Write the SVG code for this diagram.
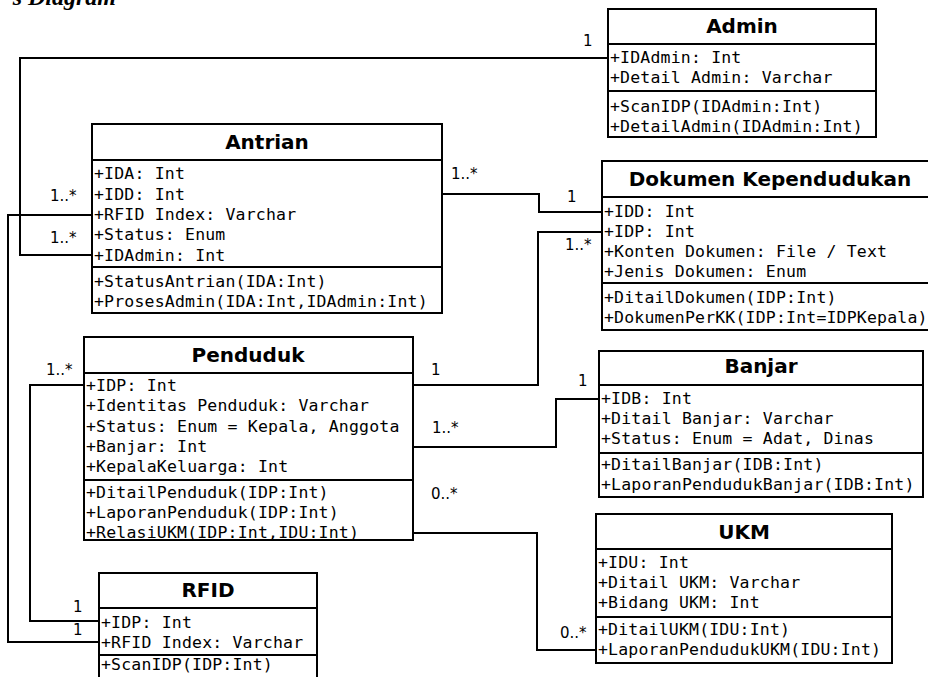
<svg xmlns="http://www.w3.org/2000/svg" width="928" height="677" viewBox="0 0 928 677">
<style>
.box{fill:#fff;stroke:#000;stroke-width:2}
.sep{stroke:#000;stroke-width:2}
.t{font-family:"DejaVu Sans",sans-serif;font-weight:bold;font-size:20px;text-anchor:middle;fill:#000}
.a{font-family:"DejaVu Sans Mono",monospace;font-size:16.5px;letter-spacing:0.18px;fill:#000}
.c{fill:none;stroke:#000;stroke-width:2}
.m{font-family:"DejaVu Sans",sans-serif;font-size:15px;fill:#000}
.h{font-family:"Liberation Serif",serif;font-weight:bold;font-style:italic;font-size:24px;fill:#000}
</style>
<rect width="928" height="677" fill="#fff"/>
<text class="h" x="116" y="5" text-anchor="end">s Diagram</text>
<g id="connectors">
<polyline class="c" points="608,58 20,58 20,255 92,255"/>
<polyline class="c" points="92,215 8,215 8,642 99,642"/>
<polyline class="c" points="84,385 30,385 30,621 99,621"/>
<polyline class="c" points="442,194 539,194 539,212 602,212"/>
<polyline class="c" points="413,385 538,385 538,232 602,232"/>
<polyline class="c" points="413,447 556,447 556,399 599,399"/>
<polyline class="c" points="413,533 537,533 537,650 596,650"/>
<text class="m" x="583" y="46">1</text>
<text class="m" x="50" y="201">1..*</text>
<text class="m" x="50" y="243">1..*</text>
<text class="m" x="451" y="179">1..*</text>
<text class="m" x="567" y="202">1</text>
<text class="m" x="565" y="250">1..*</text>
<text class="m" x="46" y="375">1..*</text>
<text class="m" x="431" y="375">1</text>
<text class="m" x="578" y="386">1</text>
<text class="m" x="432" y="433">1..*</text>
<text class="m" x="431" y="499">0..*</text>
<text class="m" x="560" y="638">0..*</text>
<text class="m" x="73" y="612">1</text>
<text class="m" x="73" y="635">1</text>
</g>
<g id="admin">
<rect class="box" x="608" y="9" width="268" height="128"/>
<line class="sep" x1="608" y1="44" x2="876" y2="44"/>
<line class="sep" x1="608" y1="91" x2="876" y2="91"/>
<text class="t" x="742" y="33">Admin</text>
<text class="a" x="610" y="63">+IDAdmin: Int</text>
<text class="a" x="610" y="83">+Detail Admin: Varchar</text>
<text class="a" x="610" y="112">+ScanIDP(IDAdmin:Int)</text>
<text class="a" x="610" y="132">+DetailAdmin(IDAdmin:Int)</text>
</g>
<g id="antrian">
<rect class="box" x="92" y="124" width="350" height="189"/>
<line class="sep" x1="92" y1="160" x2="442" y2="160"/>
<line class="sep" x1="92" y1="267" x2="442" y2="267"/>
<text class="t" x="267" y="149">Antrian</text>
<text class="a" x="94" y="179">+IDA: Int</text>
<text class="a" x="94" y="199.5">+IDD: Int</text>
<text class="a" x="94" y="220">+RFID Index: Varchar</text>
<text class="a" x="94" y="240">+Status: Enum</text>
<text class="a" x="94" y="260.5">+IDAdmin: Int</text>
<text class="a" x="94" y="286.5">+StatusAntrian(IDA:Int)</text>
<text class="a" x="94" y="307">+ProsesAdmin(IDA:Int,IDAdmin:Int)</text>
</g>
<g id="dokumen">
<rect class="box" x="602" y="161" width="336" height="169"/>
<line class="sep" x1="602" y1="197" x2="938" y2="197"/>
<line class="sep" x1="602" y1="283" x2="938" y2="283"/>
<text class="t" x="770" y="186">Dokumen Kependudukan</text>
<text class="a" x="604" y="216.5">+IDD: Int</text>
<text class="a" x="604" y="236.5">+IDP: Int</text>
<text class="a" x="604" y="256.5">+Konten Dokumen: File / Text</text>
<text class="a" x="604" y="276.5">+Jenis Dokumen: Enum</text>
<text class="a" x="604" y="303">+DitailDokumen(IDP:Int)</text>
<text class="a" x="604" y="323" letter-spacing="0">+DokumenPerKK(IDP:Int=IDPKepala)</text>
</g>
<g id="penduduk">
<rect class="box" x="84" y="337" width="329" height="203"/>
<line class="sep" x1="84" y1="373" x2="413" y2="373"/>
<line class="sep" x1="84" y1="480" x2="413" y2="480"/>
<text class="t" x="248" y="362">Penduduk</text>
<text class="a" x="86" y="390.5">+IDP: Int</text>
<text class="a" x="86" y="411">+Identitas Penduduk: Varchar</text>
<text class="a" x="86" y="431.5">+Status: Enum = Kepala, Anggota</text>
<text class="a" x="86" y="451.5">+Banjar: Int</text>
<text class="a" x="86" y="472">+KepalaKeluarga: Int</text>
<text class="a" x="86" y="498">+DitailPenduduk(IDP:Int)</text>
<text class="a" x="86" y="518">+LaporanPenduduk(IDP:Int)</text>
<text class="a" x="86" y="537.5">+RelasiUKM(IDP:Int,IDU:Int)</text>
</g>
<g id="banjar">
<rect class="box" x="599" y="351" width="324" height="146"/>
<line class="sep" x1="599" y1="385" x2="923" y2="385"/>
<line class="sep" x1="599" y1="453" x2="923" y2="453"/>
<text class="t" x="761" y="373">Banjar</text>
<text class="a" x="601" y="404">+IDB: Int</text>
<text class="a" x="601" y="424">+Ditail Banjar: Varchar</text>
<text class="a" x="601" y="444">+Status: Enum = Adat, Dinas</text>
<text class="a" x="601" y="470">+DitailBanjar(IDB:Int)</text>
<text class="a" x="601" y="490">+LaporanPendudukBanjar(IDB:Int)</text>
</g>
<g id="ukm">
<rect class="box" x="596" y="514" width="296" height="149"/>
<line class="sep" x1="596" y1="549" x2="892" y2="549"/>
<line class="sep" x1="596" y1="617" x2="892" y2="617"/>
<text class="t" x="744" y="539">UKM</text>
<text class="a" x="598" y="568">+IDU: Int</text>
<text class="a" x="598" y="588">+Ditail UKM: Varchar</text>
<text class="a" x="598" y="608">+Bidang UKM: Int</text>
<text class="a" x="598" y="635">+DitailUKM(IDU:Int)</text>
<text class="a" x="598" y="655">+LaporanPendudukUKM(IDU:Int)</text>
</g>
<g id="rfid">
<rect class="box" x="99" y="573" width="218" height="130"/>
<line class="sep" x1="99" y1="608" x2="317" y2="608"/>
<line class="sep" x1="99" y1="655" x2="317" y2="655"/>
<text class="t" x="208" y="597">RFID</text>
<text class="a" x="101" y="628">+IDP: Int</text>
<text class="a" x="101" y="648">+RFID Index: Varchar</text>
<text class="a" x="101" y="670">+ScanIDP(IDP:Int)</text>
</g>
</svg>
